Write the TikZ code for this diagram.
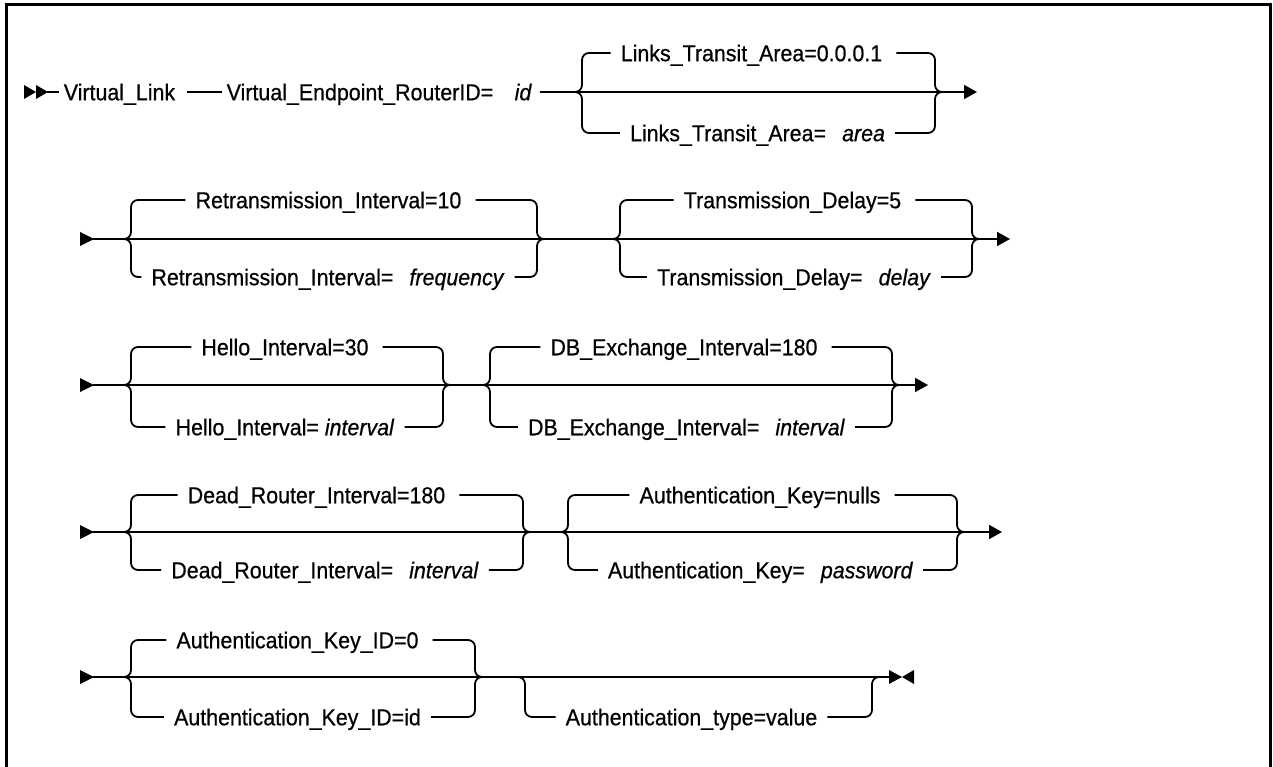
\documentclass[tikz,border=0pt]{standalone}
\usepackage{fontspec}
\setmainfont{Liberation Sans}[FakeStretch=0.93,FakeBold=0.6]
\usetikzlibrary{arrows.meta}
\newcommand\railgroup[7]{%
  \draw[rail] (#1-7,#3) -| (#1,#4) -- ([xshift=-10pt]#6.west);
  \draw[rail] ([xshift=14pt]#6.east) -| (#2,#3) -- (#2+7,#3);
  \draw[rail] (#1-7,#3) -| (#1,#5) -- ([xshift=-10pt]#7.west);
  \draw[rail] ([xshift=10pt]#7.east) -| (#2,#3) -- (#2+7,#3);
}
\begin{document}
\begin{tikzpicture}[x=1pt,y=-1pt,
  rail/.style={line width=1.8pt, rounded corners=7pt},
  lbl/.style={inner sep=0pt, text height=16.5pt, text depth=0pt, font=\fontsize{23}{27}\selectfont},
  endarrow/.style={-{Triangle[length=13pt,width=14pt]}},
  border/.style={line width=3pt}]
\useasboundingbox (0,0) rectangle (1273,767);
\draw[border] (6,767) -- (6,5) -- (1270,5) -- (1270,767);

% ---------- Row 1
\fill (24,85) -- (36,92) -- (24,99) -- cycle;
\fill (36,85) -- (48,92) -- (36,99) -- cycle;
\coordinate (r1s) at (47,92);
\coordinate (r1e) at (977,92);
\node[lbl] (vl) at (119.5,92) {Virtual\_Link};
\node[lbl] (ve) at (360,92) {Virtual\_Endpoint\_RouterID=};
\node[lbl] (vid) at (523,92) {\itshape id};
\node[lbl] (lt1) at (751.5,53) {Links\_Transit\_Area=0.0.0.1};
\node[lbl] (lt2) at (757.5,133) {Links\_Transit\_Area=\hspace{0.7em}\textit{area}};
\draw[rail] (r1s) -- ([xshift=-5pt]vl.west);
\draw[rail] ([xshift=12pt]vl.east) -- ([xshift=-5pt]ve.west);
\draw[rail,endarrow] ([xshift=8pt]vid.east) -- (r1e);
\railgroup{582}{935}{92}{53}{133}{lt1}{lt2}

% ---------- Row 2
\fill (80,232) -- (94,239) -- (80,246) -- cycle;
\coordinate (r2s) at (93,239);
\coordinate (r2e) at (1010,239);
\node[lbl] (ri1) at (328.5,200) {Retransmission\_Interval=10};
\node[lbl] (ri2) at (328,277) {Retransmission\_Interval=\hspace{0.7em}\textit{frequency}};
\node[lbl] (td1) at (792.5,200) {Transmission\_Delay=5};
\node[lbl] (td2) at (794,277) {Transmission\_Delay=\hspace{0.7em}\textit{delay}};
\draw[rail,endarrow] (r2s) -- (r2e);
\railgroup{131}{537}{239}{200}{277}{ri1}{ri2}
\railgroup{620}{972}{239}{200}{277}{td1}{td2}

% ---------- Row 3
\fill (80,378) -- (94,385) -- (80,392) -- cycle;
\coordinate (r3s) at (93,385);
\coordinate (r3e) at (928,385);
\node[lbl] (hi1) at (285,347) {Hello\_Interval=30};
\node[lbl] (hi2) at (285,427) {Hello\_Interval= \textit{interval}};
\node[lbl] (db1) at (684,347) {DB\_Exchange\_Interval=180};
\node[lbl] (db2) at (686.5,427) {DB\_Exchange\_Interval=\hspace{0.7em}\textit{interval}};
\draw[rail,endarrow] (r3s) -- (r3e);
\railgroup{131}{443}{385}{347}{427}{hi1}{hi2}
\railgroup{490}{892}{385}{347}{427}{db1}{db2}

% ---------- Row 4
\fill (80,525) -- (94,532) -- (80,539) -- cycle;
\coordinate (r4s) at (93,532);
\coordinate (r4e) at (1002,532);
\node[lbl] (dr1) at (316.5,495) {Dead\_Router\_Interval=180};
\node[lbl] (dr2) at (325,570) {Dead\_Router\_Interval=\hspace{0.7em}\textit{interval}};
\node[lbl] (ak1) at (760,495) {Authentication\_Key=nulls};
\node[lbl] (ak2) at (760.5,570) {Authentication\_Key=\hspace{0.7em}\textit{password}};
\draw[rail,endarrow] (r4s) -- (r4e);
\railgroup{131}{523}{532}{495}{570}{dr1}{dr2}
\railgroup{568}{957}{532}{495}{570}{ak1}{ak2}

% ---------- Row 5
\fill (80,670) -- (94,677) -- (80,684) -- cycle;
\coordinate (r5s) at (93,677);
\coordinate (r5e) at (890,677);
\node[lbl] (ki1) at (297.5,640) {Authentication\_Key\_ID=0};
\node[lbl] (ki2) at (297.5,717) {Authentication\_Key\_ID=id};
\node[lbl] (aty) at (691.5,717) {Authentication\_type=value};
\draw[rail] (r5s) -- (r5e);
\railgroup{131}{475}{677}{640}{717}{ki1}{ki2}
\draw[rail] (518,677) -| (525,717) -- ([xshift=-10pt]aty.west);
\draw[rail] ([xshift=10pt]aty.east) -| (872,677) -- (879,677);
\fill (889,670) -- (902,677) -- (889,684) -- cycle;
\fill (914,670) -- (902,677) -- (914,684) -- cycle;
\end{tikzpicture}
\end{document}
